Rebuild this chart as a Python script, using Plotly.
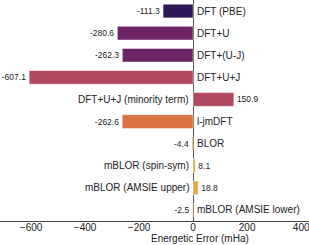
import plotly.graph_objects as go

methods = ["DFT (PBE)", "DFT+U", "DFT+(U-J)", "DFT+U+J", "DFT+U+J (minority term)",
           "l-jmDFT", "BLOR", "mBLOR (spin-sym)", "mBLOR (AMSIE upper)", "mBLOR (AMSIE lower)"]
errors = [-111.3, -280.6, -262.3, -607.1, 150.9, -262.6, -4.4, 8.1, 18.8, -2.5]
colors = ["#2f1757", "#6c2465", "#6c2465", "#b0485f", "#b0485f",
          "#d9703e", "#e2a83c", "#e2a83c", "#e2a83c", "#e2a83c"]
axis_title = "Energetic Error (mHa)"

fig = go.Figure()
fig.add_trace(go.Bar(
    x=errors, y=methods, orientation="h",
    marker=dict(color=colors, line=dict(color="white", width=0.5)),
    width=0.62,
    text=[f"{v:.1f}" for v in errors], textposition="outside",
    textfont=dict(size=8.5, color="#222"), cliponaxis=False,
    hoverinfo="skip",
))

for m, v in zip(methods, errors):
    fig.add_annotation(
        x=0, y=m, text=m, showarrow=False,
        xanchor="left" if v < 0 else "right",
        xshift=2 if v < 0 else -2,
        font=dict(size=10, color="#222"),
    )

fig.add_annotation(x=26, y=0, xref="x", yref="paper", text=axis_title, showarrow=False,
                   yanchor="middle", yshift=-17, font=dict(size=10, color="#222"))

fig.update_layout(
    width=309, height=245,
    margin=dict(l=0, r=0, t=0, b=24, autoexpand=False),
    plot_bgcolor="white", paper_bgcolor="white",
    font=dict(family="Liberation Sans, Arial, sans-serif", color="#222"),
    showlegend=False,
    xaxis=dict(range=[-715, 429], tickvals=[-600, -400, -200, 0, 200, 400],
               showgrid=False, zeroline=True, zerolinecolor="#555", zerolinewidth=1,
               showline=True, linecolor="#444", linewidth=1, ticks="",
               ticklabelstandoff=-3, ticklabeloverflow="allow",
               tickfont=dict(size=10), automargin=False),
    yaxis=dict(autorange="reversed", showticklabels=False, showgrid=False, zeroline=False,
               automargin=False),
    bargap=0.35,
)

fig.write_html("out.html", config={"displayModeBar": False},
               post_script="document.body.style.margin='0';document.body.style.overflow='hidden';")
